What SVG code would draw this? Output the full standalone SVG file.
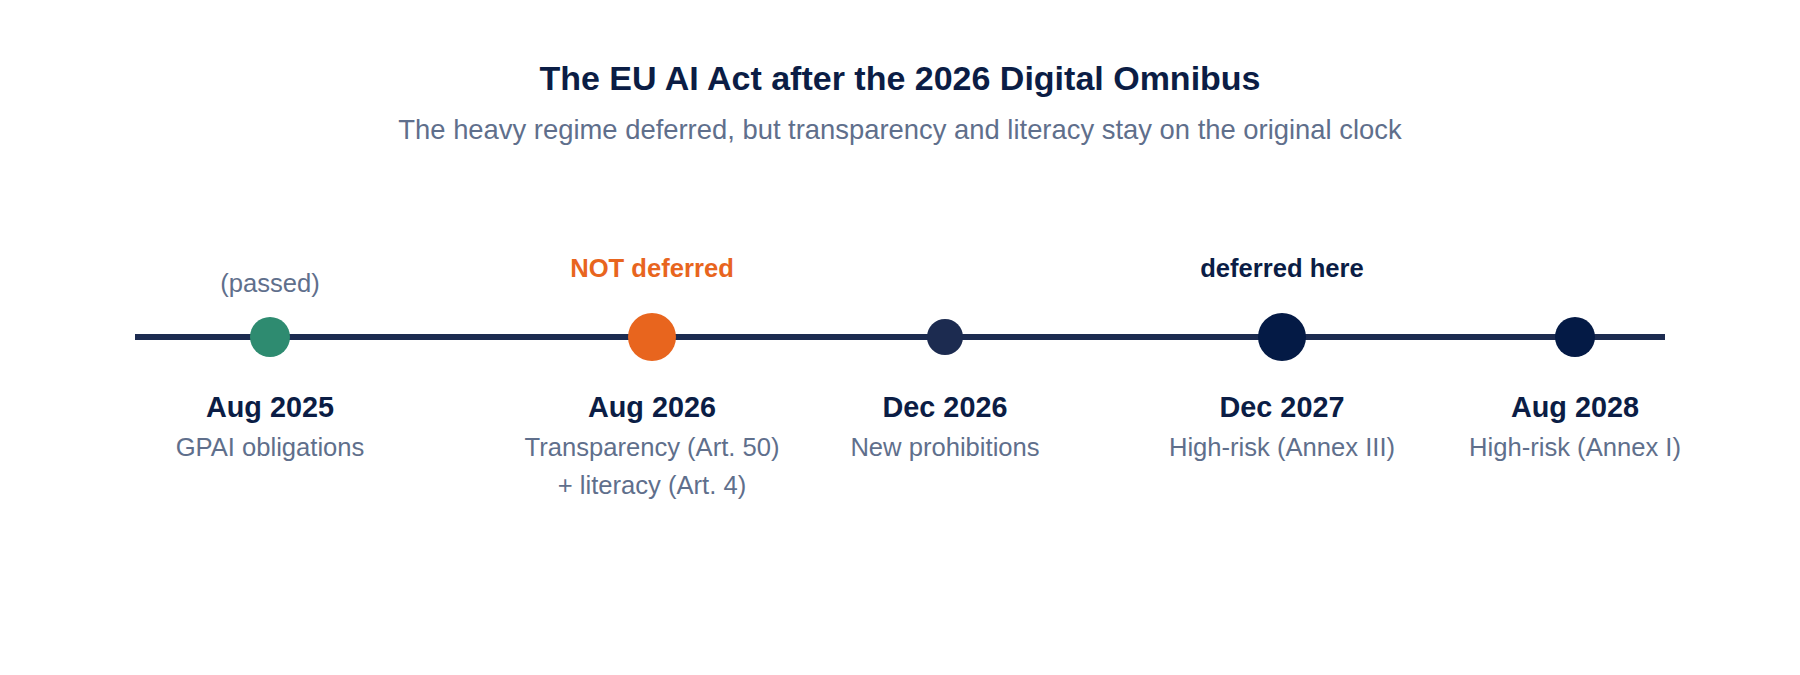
<svg xmlns="http://www.w3.org/2000/svg" width="1800" height="675" viewBox="0 0 1800 675">
  <style>
    text { font-family: "Liberation Sans", Arial, Helvetica, sans-serif; text-anchor: middle; }
    .title { font-size: 34px; font-weight: bold; fill: #0b1d45; }
    .subtitle { font-size: 27.4px; fill: #5f6f8c; }
    .date { font-size: 28.8px; font-weight: bold; fill: #0b1d45; }
    .desc { font-size: 25.6px; fill: #5f6f8c; }
    .note { font-size: 25.6px; fill: #5f6f8c; }
    .note-orange { font-size: 25.6px; font-weight: bold; fill: #e8651e; }
    .note-navy { font-size: 25.6px; font-weight: bold; fill: #0b1d45; }
  </style>
  <rect width="1800" height="675" fill="#ffffff"/>
  <g id="header">
    <text class="title" x="900" y="90">The EU AI Act after the 2026 Digital Omnibus</text>
    <text class="subtitle" x="900" y="139">The heavy regime deferred, but transparency and literacy stay on the original clock</text>
  </g>
  <g id="connectors">
    <line x1="135" y1="337" x2="1665" y2="337" stroke="#1c2b50" stroke-width="6"/>
  </g>
  <g id="node-aug2025">
    <text class="note" x="270" y="292">(passed)</text>
    <circle cx="270" cy="337" r="20" fill="#2e8b70"/>
    <text class="date" x="270" y="417">Aug 2025</text>
    <text class="desc" x="270" y="456">GPAI obligations</text>
  </g>
  <g id="node-aug2026">
    <text class="note-orange" x="652" y="277">NOT deferred</text>
    <circle cx="652" cy="337" r="24" fill="#e8651e"/>
    <text class="date" x="652" y="417">Aug 2026</text>
    <text class="desc" x="652" y="456">Transparency (Art. 50)</text>
    <text class="desc" x="652" y="494">+ literacy (Art. 4)</text>
  </g>
  <g id="node-dec2026">
    <circle cx="945" cy="337" r="18" fill="#1c2b50"/>
    <text class="date" x="945" y="417">Dec 2026</text>
    <text class="desc" x="945" y="456">New prohibitions</text>
  </g>
  <g id="node-dec2027">
    <text class="note-navy" x="1282" y="277">deferred here</text>
    <circle cx="1282" cy="337" r="24" fill="#041a45"/>
    <text class="date" x="1282" y="417">Dec 2027</text>
    <text class="desc" x="1282" y="456">High-risk (Annex III)</text>
  </g>
  <g id="node-aug2028">
    <circle cx="1575" cy="337" r="20" fill="#041a45"/>
    <text class="date" x="1575" y="417">Aug 2028</text>
    <text class="desc" x="1575" y="456">High-risk (Annex I)</text>
  </g>
</svg>
